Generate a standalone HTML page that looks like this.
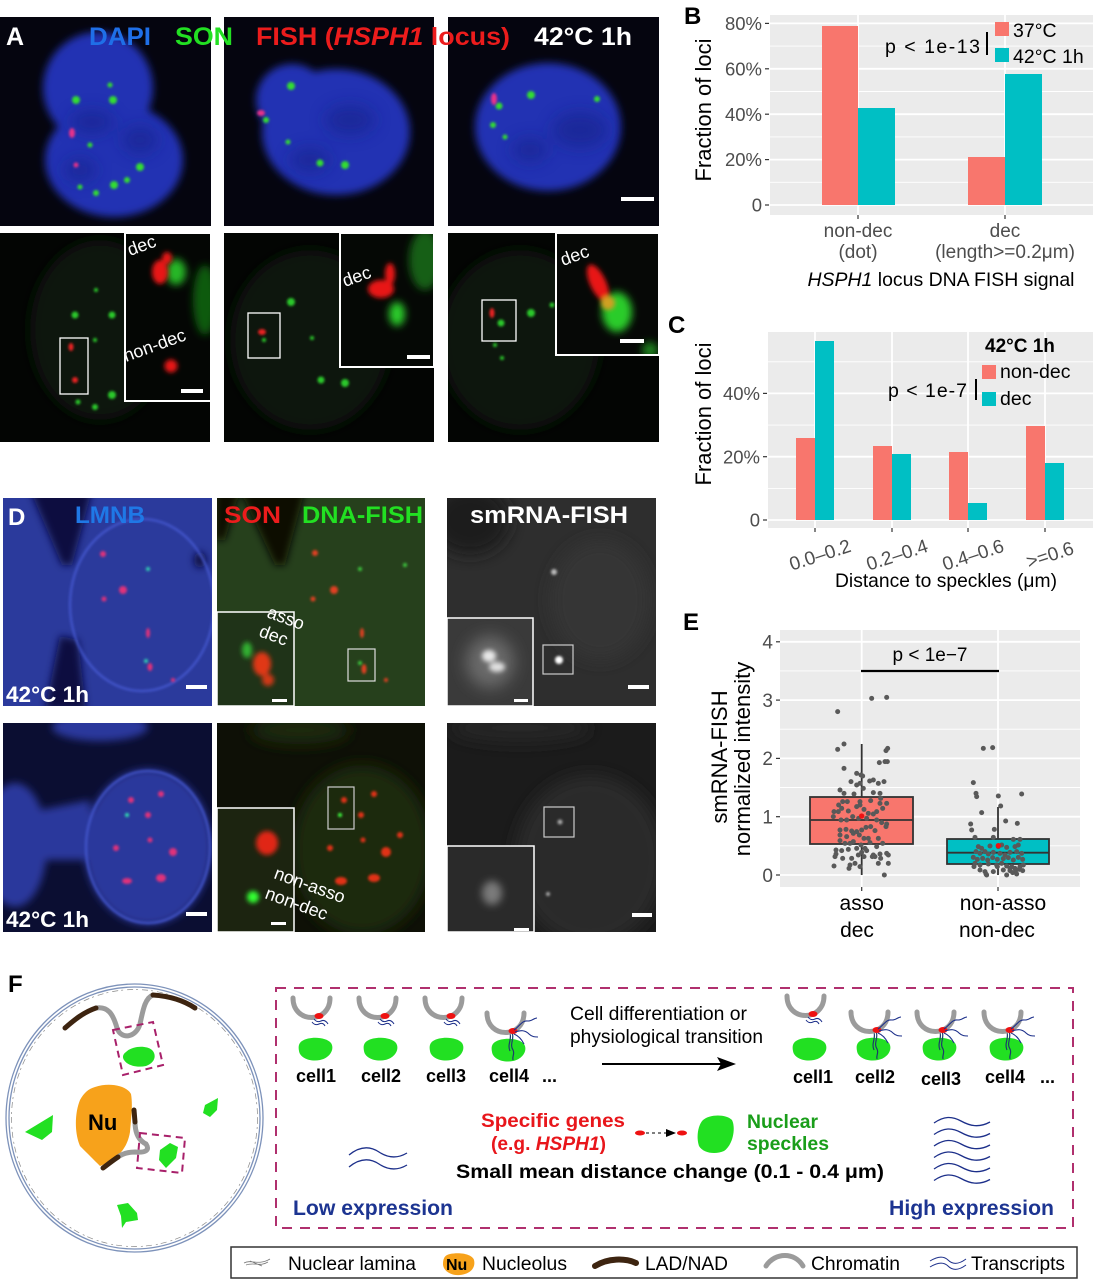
<!DOCTYPE html>
<html><head><meta charset="utf-8"><style>
html,body{margin:0;padding:0;background:#fff;}
svg{display:block;font-family:"Liberation Sans",Arial,sans-serif;}
</style></head><body>
<svg width="1093" height="1280" viewBox="0 0 1093 1280" xmlns="http://www.w3.org/2000/svg">
<defs>
<filter id="f1" x="-50%" y="-50%" width="200%" height="200%"><feGaussianBlur stdDeviation="1.3"/></filter>
<filter id="f2" x="-50%" y="-50%" width="200%" height="200%"><feGaussianBlur stdDeviation="2.5"/></filter>
<filter id="f4" x="-50%" y="-50%" width="200%" height="200%"><feGaussianBlur stdDeviation="4"/></filter>
<filter id="f8" x="-50%" y="-50%" width="200%" height="200%"><feGaussianBlur stdDeviation="8"/></filter>
<clipPath id="a1"><rect x="0" y="17" width="211" height="209"/></clipPath>
<clipPath id="a2"><rect x="224" y="17" width="210" height="209"/></clipPath>
<clipPath id="a3"><rect x="448" y="17" width="211" height="209"/></clipPath>
<clipPath id="a4"><rect x="0" y="233" width="210" height="209"/></clipPath>
<clipPath id="a5"><rect x="224" y="233" width="210" height="209"/></clipPath>
<clipPath id="a6"><rect x="448" y="233" width="211" height="209"/></clipPath>
<clipPath id="ai4"><rect x="125" y="233" width="86" height="168"/></clipPath>
<clipPath id="ai5"><rect x="340" y="233" width="94" height="134"/></clipPath>
<clipPath id="ai6"><rect x="556" y="233" width="103" height="122"/></clipPath>
<clipPath id="d1"><rect x="3" y="498" width="209" height="208"/></clipPath>
<clipPath id="d2"><rect x="217" y="498" width="208" height="208"/></clipPath>
<clipPath id="d3"><rect x="447" y="498" width="209" height="208"/></clipPath>
<clipPath id="d4"><rect x="3" y="723" width="209" height="209"/></clipPath>
<clipPath id="d5"><rect x="217" y="723" width="208" height="209"/></clipPath>
<clipPath id="d6"><rect x="447" y="723" width="209" height="209"/></clipPath>
<clipPath id="di2"><rect x="217" y="612" width="77" height="94"/></clipPath>
<clipPath id="di3"><rect x="447" y="618" width="86" height="88"/></clipPath>
<clipPath id="di5"><rect x="217" y="808" width="77" height="124"/></clipPath>
<clipPath id="di6"><rect x="447" y="846" width="87" height="86"/></clipPath>
<path id="spk" d="M-14 -8 C-6 -13 10 -12 15 -6 C19 0 14 9 4 11 C-6 13 -16 9 -17 2 C-18 -3 -17 -6 -14 -8 Z" fill="#22e022"/>
<g id="lowc">
 <path d="M0 0 C0 26 37 26 37 0" stroke="#9b9b9b" stroke-width="5" fill="none" stroke-linecap="round"/>
 <ellipse cx="26" cy="18" rx="4.5" ry="3" fill="#ee1111"/>
 <path d="M21 21 q3 4 7 2 t7 3 M19 24 q3 4 7 2 t6 2" stroke="#1c2f8a" stroke-width="1" fill="none"/>
</g>
<g id="highc">
 <path d="M25 19 c3 7 -3 12 1 18 c2 4 -1 6 0 10 M23 20 c2 7 -3 11 0 18" stroke="#1c3b6a" stroke-width="1.2" fill="none"/>
 <path d="M0 0 C0 26 37 26 37 0" stroke="#9b9b9b" stroke-width="5" fill="none" stroke-linecap="round"/>
 <ellipse cx="26" cy="18" rx="4.5" ry="3" fill="#ee1111"/>
 <path d="M27 17 c6 -4 8 -10 14 -9 c4 0 6 -3 9 -3 M28 19 c6 -2 10 -2 14 2 c3 3 6 3 9 3 M27 21 c5 2 8 6 10 10" stroke="#1c2f8a" stroke-width="1.1" fill="none"/>
</g>
</defs>

<!-- ================= PANEL A ================= -->
<g clip-path="url(#a1)">
 <rect x="0" y="17" width="211" height="209" fill="#05050f"/>
 <g filter="url(#f4)" fill="#2133b3">
  <ellipse cx="98" cy="88" rx="55" ry="56"/>
  <ellipse cx="114" cy="160" rx="69" ry="57"/>
 </g>
 <g filter="url(#f8)" fill="#16228a" opacity="0.6">
  <ellipse cx="92" cy="122" rx="22" ry="12"/><ellipse cx="140" cy="140" rx="18" ry="14"/><ellipse cx="80" cy="170" rx="16" ry="12"/>
 </g>
 <g filter="url(#f1)" fill="#33dd33">
  <circle cx="76" cy="100" r="4"/><circle cx="113" cy="100" r="4"/><circle cx="110" cy="85" r="2.5"/><circle cx="140" cy="167" r="4"/>
  <circle cx="114" cy="185" r="4"/><circle cx="96" cy="193" r="3"/><circle cx="80" cy="187" r="2.5"/><circle cx="127" cy="180" r="3"/><circle cx="90" cy="145" r="2.5"/>
 </g>
 <g filter="url(#f1)" fill="#e8308a"><ellipse cx="72" cy="133" rx="3" ry="5"/><circle cx="76" cy="165" r="2.5"/></g>
</g>
<g clip-path="url(#a2)">
 <rect x="224" y="17" width="210" height="209" fill="#05050f"/>
 <g filter="url(#f4)" fill="#2133b3">
  <ellipse cx="336" cy="132" rx="74" ry="63"/>
  <ellipse cx="292" cy="100" rx="36" ry="36"/>
 </g>
 <g filter="url(#f8)" fill="#16228a" opacity="0.6"><ellipse cx="350" cy="120" rx="25" ry="15"/><ellipse cx="310" cy="160" rx="20" ry="12"/></g>
 <g filter="url(#f1)" fill="#33dd33">
  <circle cx="291" cy="86" r="4"/><circle cx="320" cy="163" r="3.5"/><circle cx="345" cy="165" r="4"/><circle cx="266" cy="120" r="3"/><circle cx="288" cy="142" r="2.5"/>
 </g>
 <g filter="url(#f1)" fill="#e8308a"><ellipse cx="261" cy="113" rx="4" ry="3"/></g>
</g>
<g clip-path="url(#a3)">
 <rect x="448" y="17" width="211" height="209" fill="#05050f"/>
 <g filter="url(#f4)" fill="#2133b3"><ellipse cx="548" cy="127" rx="73" ry="64"/></g>
 <g filter="url(#f8)" fill="#16228a" opacity="0.6"><ellipse cx="580" cy="130" rx="28" ry="18"/><ellipse cx="530" cy="150" rx="18" ry="12"/></g>
 <g filter="url(#f1)" fill="#33dd33">
  <circle cx="531" cy="95" r="4"/><circle cx="597" cy="99" r="3"/><circle cx="499" cy="106" r="3.5"/><circle cx="493" cy="125" r="3"/><circle cx="505" cy="137" r="2.5"/>
 </g>
 <g filter="url(#f1)" fill="#e8308a"><ellipse cx="494" cy="99" rx="3" ry="6"/></g>
 <rect x="621" y="197" width="33" height="4" fill="#fff"/>
</g>
<g font-weight="bold" font-size="25">
 <text x="6" y="45" fill="#fff">A</text>
 <text x="89" y="45" fill="#1f6fe8" textLength="62" lengthAdjust="spacingAndGlyphs">DAPI</text>
 <text x="175" y="45" fill="#22e022" textLength="58" lengthAdjust="spacingAndGlyphs">SON</text>
 <text x="256" y="45" fill="#ec1c1c" textLength="254" lengthAdjust="spacingAndGlyphs">FISH (<tspan font-style="italic">HSPH1</tspan> locus)</text>
 <text x="534" y="45" fill="#fff" textLength="98" lengthAdjust="spacingAndGlyphs">42°C 1h</text>
</g>

<!-- A bottom row -->
<g clip-path="url(#a4)">
 <rect x="0" y="233" width="210" height="209" fill="#030503"/>
 <g filter="url(#f8)" fill="#081508"><ellipse cx="100" cy="330" rx="70" ry="90"/></g>
 <g filter="url(#f1)" fill="#2cc82c">
  <circle cx="75" cy="315" r="3.5"/><circle cx="112" cy="315" r="3.5"/><circle cx="112" cy="395" r="4"/><circle cx="95" cy="407" r="3"/><circle cx="78" cy="402" r="2.5"/><circle cx="96" cy="290" r="2"/><circle cx="95" cy="340" r="2"/>
 </g>
 <g filter="url(#f1)" fill="#e82020"><ellipse cx="71" cy="347" rx="2.5" ry="4"/><circle cx="75" cy="380" r="3"/></g>
 <rect x="60" y="338" width="28" height="56" fill="none" stroke="#fff" stroke-width="1.3"/>
</g>
<g clip-path="url(#ai4)">
 <rect x="125" y="233" width="86" height="168" fill="#040604"/>
 <g filter="url(#f4)"><ellipse cx="205" cy="300" rx="12" ry="35" fill="#0f5a10"/><ellipse cx="176" cy="272" rx="10" ry="13" fill="#25b825"/></g>
 <g filter="url(#f2)" fill="#e81818"><ellipse cx="160" cy="272" rx="8" ry="12"/><ellipse cx="167" cy="258" rx="5" ry="6"/><circle cx="171" cy="366" r="6.5"/></g>
 <rect x="181" y="389" width="22" height="4" fill="#fff"/>
</g>
<rect x="125" y="233" width="86" height="168" fill="none" stroke="#fff" stroke-width="2"/>
<g fill="#fff" font-size="18">
 <text x="130" y="256" transform="rotate(-20 130 256)">dec</text>
 <text x="126" y="362" transform="rotate(-20 126 362)">non-dec</text>
</g>

<g clip-path="url(#a5)">
 <rect x="224" y="233" width="210" height="209" fill="#030503"/>
 <g filter="url(#f8)" fill="#081508"><ellipse cx="310" cy="340" rx="80" ry="90"/></g>
 <g filter="url(#f1)" fill="#2cc82c">
  <circle cx="291" cy="302" r="4"/><circle cx="321" cy="380" r="3.5"/><circle cx="345" cy="383" r="4"/><circle cx="312" cy="338" r="2"/><circle cx="264" cy="340" r="2"/>
 </g>
 <g filter="url(#f1)" fill="#e82020"><ellipse cx="262" cy="332" rx="4" ry="3"/></g>
 <rect x="248" y="313" width="32" height="45" fill="none" stroke="#fff" stroke-width="1.3"/>
</g>
<g clip-path="url(#ai5)">
 <rect x="340" y="233" width="94" height="134" fill="#050805"/>
 <g filter="url(#f4)"><ellipse cx="425" cy="260" rx="16" ry="30" fill="#165e16"/><ellipse cx="397" cy="314" rx="8" ry="12" fill="#2ccc2c"/></g>
 <g filter="url(#f2)" fill="#e81818"><ellipse cx="381" cy="289" rx="13" ry="9"/><ellipse cx="390" cy="274" rx="5" ry="11"/></g>
 <rect x="407" y="355" width="23" height="4" fill="#fff"/>
</g>
<rect x="340" y="233" width="94" height="134" fill="none" stroke="#fff" stroke-width="2"/>
<text x="345" y="287" transform="rotate(-20 345 287)" fill="#fff" font-size="18">dec</text>

<g clip-path="url(#a6)">
 <rect x="448" y="233" width="211" height="209" fill="#030503"/>
 <g filter="url(#f8)" fill="#081508"><ellipse cx="520" cy="340" rx="80" ry="90"/></g>
 <g filter="url(#f1)" fill="#2cc82c">
  <circle cx="531" cy="313" r="4"/><circle cx="501" cy="323" r="3.5"/><circle cx="495" cy="345" r="2"/><circle cx="502" cy="358" r="2"/><circle cx="552" cy="305" r="2.5"/>
 </g>
 <g filter="url(#f1)" fill="#e82020"><ellipse cx="492" cy="313" rx="2.5" ry="5"/></g>
 <rect x="482" y="300" width="34" height="41" fill="none" stroke="#fff" stroke-width="1.3"/>
</g>
<g clip-path="url(#ai6)">
 <rect x="556" y="233" width="103" height="122" fill="#060806"/>
 <g filter="url(#f4)"><ellipse cx="617" cy="312" rx="15" ry="20" fill="#2ccc2c"/><ellipse cx="650" cy="350" rx="8" ry="8" fill="#1a801a"/></g>
 <g filter="url(#f2)"><ellipse cx="598" cy="283" rx="8" ry="20" transform="rotate(-25 598 283)" fill="#e81818"/><ellipse cx="608" cy="303" rx="7" ry="7" fill="#d0a020"/></g>
 <rect x="620" y="339" width="24" height="4" fill="#fff"/>
</g>
<rect x="556" y="233" width="103" height="122" fill="none" stroke="#fff" stroke-width="2"/>
<text x="563" y="266" transform="rotate(-20 563 266)" fill="#fff" font-size="18">dec</text>

<!-- ================= PANEL B ================= -->
<rect x="770" y="15" width="323" height="200" fill="#EBEBEB"/>
<g stroke="#fff" stroke-width="0.9"><line x1="770" x2="1093" y1="182.3" y2="182.3"/><line x1="770" x2="1093" y1="136.9" y2="136.9"/><line x1="770" x2="1093" y1="91.5" y2="91.5"/><line x1="770" x2="1093" y1="46.1" y2="46.1"/></g>
<g stroke="#fff" stroke-width="1.8"><line x1="770" x2="1093" y1="205" y2="205"/><line x1="770" x2="1093" y1="159.6" y2="159.6"/><line x1="770" x2="1093" y1="114.2" y2="114.2"/><line x1="770" x2="1093" y1="68.8" y2="68.8"/><line x1="770" x2="1093" y1="23.4" y2="23.4"/><line x1="858" x2="858" y1="15" y2="215"/><line x1="1005" x2="1005" y1="15" y2="215"/></g>
<rect x="822" y="26" width="36" height="179" fill="#F8766D"/>
<rect x="858" y="108" width="37" height="97" fill="#00BFC4"/>
<rect x="968" y="157" width="37" height="48" fill="#F8766D"/>
<rect x="1005" y="74" width="37" height="131" fill="#00BFC4"/>
<g stroke="#333" stroke-width="1.2"><line x1="765" x2="769" y1="205" y2="205"/><line x1="765" x2="769" y1="159.6" y2="159.6"/><line x1="765" x2="769" y1="114.2" y2="114.2"/><line x1="765" x2="769" y1="68.8" y2="68.8"/><line x1="765" x2="769" y1="23.4" y2="23.4"/><line x1="858" x2="858" y1="215" y2="219"/><line x1="1005" x2="1005" y1="215" y2="219"/></g>
<g fill="#4D4D4D" font-size="18.5" text-anchor="end"><text x="762" y="30">80%</text><text x="762" y="75.5">60%</text><text x="762" y="121">40%</text><text x="762" y="166">20%</text><text x="762" y="211.5">0</text></g>
<g fill="#4D4D4D" font-size="19" text-anchor="middle"><text x="858" y="237">non-dec</text><text x="858" y="258">(dot)</text><text x="1005" y="237">dec</text><text x="1005" y="258">(length&gt;=0.2μm)</text></g>
<text x="941" y="286" font-size="19.5" text-anchor="middle" fill="#000" textLength="267" lengthAdjust="spacingAndGlyphs"><tspan font-style="italic">HSPH1</tspan> locus DNA FISH signal</text>
<text transform="translate(711 110) rotate(-90)" font-size="22" text-anchor="middle" fill="#000">Fraction of loci</text>
<rect x="995" y="22" width="14" height="14" fill="#F8766D"/><rect x="995" y="48" width="14" height="14" fill="#00BFC4"/>
<g font-size="19.5" fill="#000"><text x="1013" y="37">37°C</text><text x="1013" y="63">42°C 1h</text><text x="885" y="53" textLength="95" lengthAdjust="spacing">p &lt; 1e-13</text></g>
<line x1="987" x2="987" y1="32" y2="55" stroke="#000" stroke-width="2"/>
<text x="684" y="24" font-size="24" font-weight="bold" fill="#000">B</text>

<!-- ================= PANEL C ================= -->
<rect x="768" y="332" width="325" height="196" fill="#EBEBEB"/>
<g stroke="#fff" stroke-width="0.9"><line x1="768" x2="1093" y1="488.4" y2="488.4"/><line x1="768" x2="1093" y1="425.1" y2="425.1"/><line x1="768" x2="1093" y1="361.8" y2="361.8"/></g>
<g stroke="#fff" stroke-width="1.8"><line x1="768" x2="1093" y1="520" y2="520"/><line x1="768" x2="1093" y1="456.7" y2="456.7"/><line x1="768" x2="1093" y1="393.4" y2="393.4"/><line x1="815" x2="815" y1="332" y2="528"/><line x1="892" x2="892" y1="332" y2="528"/><line x1="968" x2="968" y1="332" y2="528"/><line x1="1045" x2="1045" y1="332" y2="528"/></g>
<rect x="796" y="438" width="19" height="82" fill="#F8766D"/><rect x="815" y="341" width="19" height="179" fill="#00BFC4"/>
<rect x="873" y="446" width="19" height="74" fill="#F8766D"/><rect x="892" y="454" width="19" height="66" fill="#00BFC4"/>
<rect x="949" y="452" width="19" height="68" fill="#F8766D"/><rect x="968" y="503" width="19" height="17" fill="#00BFC4"/>
<rect x="1026" y="426" width="19" height="94" fill="#F8766D"/><rect x="1045" y="463" width="19" height="57" fill="#00BFC4"/>
<g stroke="#333" stroke-width="1.2"><line x1="763" x2="767" y1="520" y2="520"/><line x1="763" x2="767" y1="456.7" y2="456.7"/><line x1="763" x2="767" y1="393.4" y2="393.4"/><line x1="815" x2="815" y1="528" y2="532"/><line x1="892" x2="892" y1="528" y2="532"/><line x1="968" x2="968" y1="528" y2="532"/><line x1="1045" x2="1045" y1="528" y2="532"/></g>
<g fill="#4D4D4D" font-size="18.5" text-anchor="end"><text x="760" y="400">40%</text><text x="760" y="463.5">20%</text><text x="760" y="526.5">0</text></g>
<g fill="#4D4D4D" font-size="19" text-anchor="middle">
 <text x="822" y="561" transform="rotate(-18 822 561)">0.0–0.2</text>
 <text x="899" y="561" transform="rotate(-18 899 561)">0.2–0.4</text>
 <text x="975" y="561" transform="rotate(-18 975 561)">0.4–0.6</text>
 <text x="1052" y="561" transform="rotate(-18 1052 561)">&gt;=0.6</text>
</g>
<text x="946" y="587" font-size="19.5" text-anchor="middle" fill="#000" textLength="222" lengthAdjust="spacingAndGlyphs">Distance to speckles (μm)</text>
<text transform="translate(711 414) rotate(-90)" font-size="22" text-anchor="middle" fill="#000">Fraction of loci</text>
<text x="985" y="352" font-size="19" font-weight="bold" fill="#000">42°C 1h</text>
<rect x="982" y="365" width="14" height="14" fill="#F8766D"/><rect x="982" y="392" width="14" height="14" fill="#00BFC4"/>
<g font-size="19.5" fill="#000"><text x="1000" y="378">non-dec</text><text x="1000" y="405">dec</text><text x="888" y="397" textLength="79" lengthAdjust="spacing">p &lt; 1e-7</text></g>
<line x1="976" x2="976" y1="379" y2="400" stroke="#000" stroke-width="2"/>
<text x="668" y="333" font-size="24" font-weight="bold" fill="#000">C</text>

<!-- ================= PANEL D ================= -->
<g clip-path="url(#d1)">
 <rect x="3" y="498" width="209" height="208" fill="#2b3a9c"/>
 <g filter="url(#f4)" fill="#0c1140">
  <polygon points="30,490 92,490 72,565 62,565"/>
  <polygon points="45,710 86,710 78,640 60,636"/>
  <ellipse cx="200" cy="560" rx="6" ry="8"/>
 </g>
 <ellipse cx="142" cy="605" rx="72" ry="86" fill="none" stroke="#4558d0" stroke-width="2" filter="url(#f1)"/>
 <g filter="url(#f1)" fill="#e0307a">
  <circle cx="103" cy="554" r="3"/><circle cx="123" cy="590" r="4"/><circle cx="104" cy="599" r="2.5"/><ellipse cx="148" cy="633" rx="2" ry="5"/><ellipse cx="150" cy="667" rx="2.5" ry="4"/><circle cx="173" cy="680" r="2"/>
 </g>
 <g filter="url(#f1)" fill="#30d0b0"><circle cx="148" cy="569" r="2"/><circle cx="146" cy="661" r="2"/></g>
 <rect x="186" y="685" width="21" height="4" fill="#fff"/>
</g>
<g clip-path="url(#d2)">
 <rect x="217" y="498" width="208" height="208" fill="#26401c"/>
 <g filter="url(#f4)" fill="#0a0a04">
  <polygon points="240,490 305,490 285,565 275,565"/>
  <polygon points="215,490 240,490 225,540 215,540"/>
 </g>
 <g filter="url(#f1)" fill="#e04020">
  <circle cx="315" cy="553" r="3"/><circle cx="334" cy="590" r="4"/><circle cx="313" cy="599" r="2.5"/><ellipse cx="362" cy="633" rx="2" ry="5"/><ellipse cx="364" cy="669" rx="2.5" ry="5"/><circle cx="386" cy="680" r="2"/>
 </g>
 <g filter="url(#f1)" fill="#3cc83c"><circle cx="360" cy="569" r="2"/><circle cx="360" cy="663" r="2"/><circle cx="405" cy="565" r="2"/></g>
 <rect x="348" y="649" width="27" height="32" fill="none" stroke="#ddd" stroke-width="1.2"/>
</g>
<g clip-path="url(#di2)">
 <rect x="217" y="612" width="77" height="94" fill="#1f3318"/>
 <g filter="url(#f2)"><ellipse cx="247" cy="650" rx="5" ry="8" fill="#30b030"/><ellipse cx="262" cy="664" rx="9" ry="12" fill="#e03818"/><ellipse cx="268" cy="680" rx="6" ry="6" fill="#d03818"/></g>
 <rect x="272" y="699" width="15" height="3" fill="#fff"/>
</g>
<rect x="217" y="612" width="77" height="94" fill="none" stroke="#fff" stroke-width="1.5"/>
<g fill="#fff" font-size="18"><text x="266" y="617" transform="rotate(20 266 617)">asso</text><text x="258" y="636" transform="rotate(20 258 636)">dec</text></g>
<g clip-path="url(#d3)">
 <rect x="447" y="498" width="209" height="208" fill="#2e2e2e"/>
 <g filter="url(#f8)"><ellipse cx="470" cy="520" rx="40" ry="35" fill="#1a1a1a"/><ellipse cx="600" cy="600" rx="50" ry="60" fill="#363636"/></g>
 <g filter="url(#f1)" fill="#bbb"><circle cx="554" cy="572" r="3"/></g>
 <g filter="url(#f1)" fill="#fff"><ellipse cx="559" cy="660" rx="4" ry="4"/></g>
 <rect x="543" y="645" width="30" height="29" fill="none" stroke="#ccc" stroke-width="1.2"/>
 <rect x="628" y="685" width="21" height="4" fill="#fff"/>
</g>
<g clip-path="url(#di3)">
 <rect x="447" y="618" width="86" height="88" fill="#3a3a3a"/>
 <g filter="url(#f8)"><ellipse cx="490" cy="662" rx="24" ry="26" fill="#6a6a6a"/></g>
 <g filter="url(#f2)"><ellipse cx="489" cy="656" rx="7" ry="6" fill="#e8e8e8"/><ellipse cx="497" cy="667" rx="8" ry="5" fill="#e0e0e0"/></g>
 <rect x="514" y="699" width="14" height="3" fill="#fff"/>
</g>
<rect x="447" y="618" width="86" height="88" fill="none" stroke="#fff" stroke-width="1.5"/>

<g clip-path="url(#d4)">
 <rect x="3" y="723" width="209" height="209" fill="#0b0e32"/>
 <g filter="url(#f4)" fill="#2a399c">
  <ellipse cx="100" cy="727" rx="48" ry="14"/>
  <ellipse cx="15" cy="845" rx="32" ry="62"/>
  <ellipse cx="148" cy="847" rx="64" ry="78"/>
  <polygon points="40,810 90,800 90,860 40,860"/>
 </g>
 <ellipse cx="148" cy="847" rx="62" ry="76" fill="none" stroke="#4558d0" stroke-width="2" filter="url(#f1)"/>
 <g filter="url(#f1)" fill="#e0307a">
  <circle cx="131" cy="800" r="3"/><circle cx="161" cy="794" r="3"/><circle cx="148" cy="815" r="3"/><circle cx="116" cy="848" r="3"/><circle cx="173" cy="852" r="4"/><ellipse cx="127" cy="881" rx="5" ry="3"/><ellipse cx="161" cy="878" rx="5" ry="4"/><circle cx="150" cy="840" r="2.5"/>
 </g>
 <g filter="url(#f1)" fill="#30e0b0"><circle cx="127" cy="815" r="2"/></g>
 <rect x="186" y="912" width="21" height="4" fill="#fff"/>
</g>
<g clip-path="url(#d5)">
 <rect x="217" y="723" width="208" height="209" fill="#0e1006"/>
 <g filter="url(#f8)" fill="#1d2a10"><ellipse cx="362" cy="850" rx="70" ry="85"/><ellipse cx="300" cy="730" rx="50" ry="14"/></g>
 <g filter="url(#f1)" fill="#e03018">
  <circle cx="344" cy="800" r="3"/><circle cx="374" cy="794" r="3"/><circle cx="361" cy="815" r="3"/><circle cx="330" cy="848" r="3"/><circle cx="386" cy="852" r="5"/><ellipse cx="341" cy="881" rx="6" ry="4"/><ellipse cx="374" cy="878" rx="6" ry="4"/><circle cx="363" cy="840" r="2.5"/><circle cx="400" cy="835" r="3"/>
 </g>
 <g filter="url(#f1)" fill="#40ff40"><circle cx="340" cy="815" r="2"/></g>
 <rect x="328" y="787" width="26" height="42" fill="none" stroke="#ccc" stroke-width="1.2"/>
</g>
<g clip-path="url(#di5)">
 <rect x="217" y="808" width="77" height="124" fill="#1c2410"/>
 <g filter="url(#f2)"><ellipse cx="267" cy="843" rx="11" ry="12" fill="#e02818"/><circle cx="253" cy="897" r="6" fill="#30ff30"/></g>
 <rect x="271" y="922" width="15" height="3" fill="#fff"/>
</g>
<rect x="217" y="808" width="77" height="124" fill="none" stroke="#fff" stroke-width="1.5"/>
<g fill="#fff" font-size="18"><text x="273" y="878" transform="rotate(20 273 878)">non-asso</text><text x="264" y="898" transform="rotate(20 264 898)">non-dec</text></g>
<g clip-path="url(#d6)">
 <rect x="447" y="723" width="209" height="209" fill="#1b1b1b"/>
 <g filter="url(#f8)"><ellipse cx="590" cy="860" rx="75" ry="85" fill="#2a2a2a"/><ellipse cx="520" cy="728" rx="70" ry="14" fill="#252525"/></g>
 <g filter="url(#f1)" fill="#aaa"><circle cx="560" cy="822" r="2.5"/><circle cx="548" cy="894" r="2"/></g>
 <rect x="544" y="807" width="30" height="30" fill="none" stroke="#ccc" stroke-width="1.2"/>
 <rect x="632" y="913" width="20" height="4" fill="#fff"/>
</g>
<g clip-path="url(#di6)">
 <rect x="447" y="846" width="87" height="86" fill="#2a2a2a"/>
 <g filter="url(#f4)"><ellipse cx="492" cy="893" rx="10" ry="12" fill="#7a7a7a"/></g>
 <rect x="514" y="928" width="15" height="3" fill="#fff"/>
</g>
<rect x="447" y="846" width="87" height="86" fill="none" stroke="#fff" stroke-width="1.5"/>
<g font-weight="bold">
 <text x="8" y="525" font-size="24" fill="#fff">D</text>
 <text x="75" y="523" font-size="24" fill="#1f78e6" textLength="70" lengthAdjust="spacingAndGlyphs">LMNB</text>
 <text x="224" y="523" font-size="24" fill="#ec1c1c" textLength="57" lengthAdjust="spacingAndGlyphs">SON</text>
 <text x="302" y="523" font-size="24" fill="#22e022" textLength="121" lengthAdjust="spacingAndGlyphs">DNA-FISH</text>
 <text x="470" y="523" font-size="24" fill="#fff" textLength="158" lengthAdjust="spacingAndGlyphs">smRNA-FISH</text>
 <text x="6" y="702" font-size="22.5" fill="#fff" textLength="83" lengthAdjust="spacingAndGlyphs">42°C 1h</text>
 <text x="6" y="927" font-size="22.5" fill="#fff" textLength="83" lengthAdjust="spacingAndGlyphs">42°C 1h</text>
</g>

<!-- ================= PANEL E ================= -->
<text x="683" y="630" font-size="24" font-weight="bold" fill="#000">E</text>
<rect x="780" y="630" width="300" height="257" fill="#EBEBEB"/>
<g stroke="#fff" stroke-width="0.9"><line x1="780" x2="1080" y1="845.8" y2="845.8"/><line x1="780" x2="1080" y1="787.5" y2="787.5"/><line x1="780" x2="1080" y1="729.2" y2="729.2"/><line x1="780" x2="1080" y1="670.9" y2="670.9"/></g>
<g stroke="#fff" stroke-width="1.8"><line x1="780" x2="1080" y1="875" y2="875"/><line x1="780" x2="1080" y1="816.7" y2="816.7"/><line x1="780" x2="1080" y1="758.4" y2="758.4"/><line x1="780" x2="1080" y1="700.1" y2="700.1"/><line x1="780" x2="1080" y1="641.8" y2="641.8"/><line x1="861.7" x2="861.7" y1="630" y2="887"/><line x1="998" x2="998" y1="630" y2="887"/></g>
<g stroke="#333" stroke-width="1.2"><line x1="776" x2="780" y1="875" y2="875"/><line x1="776" x2="780" y1="816.7" y2="816.7"/><line x1="776" x2="780" y1="758.4" y2="758.4"/><line x1="776" x2="780" y1="700.1" y2="700.1"/><line x1="776" x2="780" y1="641.8" y2="641.8"/><line x1="861.7" x2="861.7" y1="887" y2="891"/><line x1="998" x2="998" y1="887" y2="891"/></g>
<g fill="#4D4D4D" font-size="19" text-anchor="end"><text x="773" y="882">0</text><text x="773" y="823.5">1</text><text x="773" y="765">2</text><text x="773" y="707">3</text><text x="773" y="648.5">4</text></g>
<g stroke="#333" stroke-width="1.8">
 <line x1="861.7" x2="861.7" y1="744" y2="875"/>
 <rect x="810" y="797" width="103" height="47" fill="#F8766D"/>
 <line x1="810" x2="913" y1="820" y2="820"/>
 <line x1="998" x2="998" y1="807" y2="875"/>
 <rect x="947" y="839" width="102" height="25" fill="#00BFC4"/>
 <line x1="947" x2="1049" y1="852.7" y2="852.7"/>
</g>
<g transform="translate(660 600) scale(0.33333)" fill="#595959">
<circle cx="533" cy="335" r="7.5"/><circle cx="635" cy="295" r="7.5"/><circle cx="680" cy="292" r="7.5"/><circle cx="533" cy="448" r="7.5"/><circle cx="552" cy="432" r="7.5"/><circle cx="683" cy="445" r="7.5"/><circle cx="678" cy="452" r="7.5"/><circle cx="552" cy="505" r="7.5"/><circle cx="658" cy="488" r="7.5"/><circle cx="675" cy="485" r="7.5"/><circle cx="682" cy="485" r="7.5"/><circle cx="590" cy="520" r="7.5"/><circle cx="603" cy="525" r="7.5"/><circle cx="608" cy="528" r="7.5"/><circle cx="590" cy="555" r="7.5"/><circle cx="600" cy="550" r="7.5"/><circle cx="573" cy="545" r="7.5"/><circle cx="629" cy="543" r="7.5"/><circle cx="655" cy="550" r="7.5"/><circle cx="672" cy="545" r="7.5"/><circle cx="540" cy="570" r="7.5"/><circle cx="610" cy="565" r="7.5"/><circle cx="640" cy="578" r="7.5"/><circle cx="660" cy="580" r="7.5"/><circle cx="582" cy="582" r="7.5"/><circle cx="548" cy="605" r="7.5"/><circle cx="562" cy="605" r="7.5"/><circle cx="536" cy="615" r="7.5"/><circle cx="600" cy="605" r="7.5"/><circle cx="662" cy="595" r="7.5"/><circle cx="680" cy="610" r="7.5"/><circle cx="535" cy="635" r="7.5"/><circle cx="545" cy="625" r="7.5"/><circle cx="565" cy="633" r="7.5"/><circle cx="590" cy="620" r="7.5"/><circle cx="612" cy="628" r="7.5"/><circle cx="625" cy="640" r="7.5"/><circle cx="640" cy="642" r="7.5"/><circle cx="650" cy="635" r="7.5"/><circle cx="668" cy="625" r="7.5"/><circle cx="522" cy="635" r="7.5"/><circle cx="520" cy="650" r="7.5"/><circle cx="543" cy="660" r="7.5"/><circle cx="560" cy="660" r="7.5"/><circle cx="578" cy="650" r="7.5"/><circle cx="596" cy="655" r="7.5"/><circle cx="620" cy="655" r="7.5"/><circle cx="650" cy="660" r="7.5"/><circle cx="665" cy="668" r="7.5"/><circle cx="540" cy="690" r="7.5"/><circle cx="558" cy="688" r="7.5"/><circle cx="575" cy="693" r="7.5"/><circle cx="590" cy="695" r="7.5"/><circle cx="605" cy="690" r="7.5"/><circle cx="618" cy="682" r="7.5"/><circle cx="632" cy="680" r="7.5"/><circle cx="645" cy="692" r="7.5"/><circle cx="680" cy="672" r="7.5"/><circle cx="678" cy="680" r="7.5"/><circle cx="540" cy="705" r="7.5"/><circle cx="560" cy="710" r="7.5"/><circle cx="580" cy="700" r="7.5"/><circle cx="598" cy="705" r="7.5"/><circle cx="612" cy="715" r="7.5"/><circle cx="625" cy="715" r="7.5"/><circle cx="655" cy="715" r="7.5"/><circle cx="540" cy="722" r="7.5"/><circle cx="555" cy="730" r="7.5"/><circle cx="580" cy="725" r="7.5"/><circle cx="603" cy="735" r="7.5"/><circle cx="630" cy="728" r="7.5"/><circle cx="650" cy="740" r="7.5"/><circle cx="668" cy="730" r="7.5"/><circle cx="528" cy="750" r="7.5"/><circle cx="545" cy="752" r="7.5"/><circle cx="565" cy="748" r="7.5"/><circle cx="590" cy="745" r="7.5"/><circle cx="605" cy="757" r="7.5"/><circle cx="620" cy="752" r="7.5"/><circle cx="645" cy="770" r="7.5"/><circle cx="660" cy="762" r="7.5"/><circle cx="680" cy="760" r="7.5"/><circle cx="528" cy="762" r="7.5"/><circle cx="525" cy="770" r="7.5"/><circle cx="548" cy="775" r="7.5"/><circle cx="575" cy="775" r="7.5"/><circle cx="595" cy="765" r="7.5"/><circle cx="612" cy="770" r="7.5"/><circle cx="640" cy="765" r="7.5"/><circle cx="662" cy="775" r="7.5"/><circle cx="685" cy="765" r="7.5"/><circle cx="522" cy="798" r="7.5"/><circle cx="570" cy="795" r="7.5"/><circle cx="585" cy="790" r="7.5"/><circle cx="655" cy="790" r="7.5"/><circle cx="685" cy="790" r="7.5"/><circle cx="567" cy="805" r="7.5"/><circle cx="600" cy="800" r="7.5"/><circle cx="673" cy="825" r="7.5"/><circle cx="637" cy="770" r="7.5"/><circle cx="615" cy="745" r="7.5"/><circle cx="570" cy="730" r="7.5"/><circle cx="600" cy="615" r="7.5"/><circle cx="552" cy="580" r="7.5"/><circle cx="632" cy="602" r="7.5"/><circle cx="660" cy="610" r="7.5"/><circle cx="640" cy="540" r="7.5"/>
<circle cx="940" cy="548" r="7.5"/><circle cx="998" cy="443" r="7.5"/><circle cx="970" cy="445" r="7.5"/><circle cx="948" cy="580" r="7.5"/><circle cx="950" cy="590" r="7.5"/><circle cx="1015" cy="588" r="7.5"/><circle cx="1085" cy="582" r="7.5"/><circle cx="965" cy="638" r="7.5"/><circle cx="1022" cy="618" r="7.5"/><circle cx="932" cy="672" r="7.5"/><circle cx="1037" cy="663" r="7.5"/><circle cx="1072" cy="670" r="7.5"/><circle cx="935" cy="690" r="7.5"/><circle cx="1003" cy="688" r="7.5"/><circle cx="945" cy="712" r="7.5"/><circle cx="1000" cy="712" r="7.5"/><circle cx="1060" cy="718" r="7.5"/><circle cx="1080" cy="718" r="7.5"/><circle cx="955" cy="740" r="7.5"/><circle cx="965" cy="745" r="7.5"/><circle cx="990" cy="738" r="7.5"/><circle cx="1015" cy="740" r="7.5"/><circle cx="1025" cy="735" r="7.5"/><circle cx="1040" cy="742" r="7.5"/><circle cx="1065" cy="740" r="7.5"/><circle cx="1075" cy="735" r="7.5"/><circle cx="948" cy="755" r="7.5"/><circle cx="960" cy="760" r="7.5"/><circle cx="975" cy="755" r="7.5"/><circle cx="985" cy="762" r="7.5"/><circle cx="1000" cy="757" r="7.5"/><circle cx="1020" cy="760" r="7.5"/><circle cx="1035" cy="765" r="7.5"/><circle cx="1050" cy="757" r="7.5"/><circle cx="1070" cy="755" r="7.5"/><circle cx="1085" cy="760" r="7.5"/><circle cx="940" cy="772" r="7.5"/><circle cx="952" cy="778" r="7.5"/><circle cx="968" cy="775" r="7.5"/><circle cx="983" cy="780" r="7.5"/><circle cx="998" cy="773" r="7.5"/><circle cx="1012" cy="778" r="7.5"/><circle cx="1030" cy="776" r="7.5"/><circle cx="1045" cy="773" r="7.5"/><circle cx="1060" cy="780" r="7.5"/><circle cx="1075" cy="772" r="7.5"/><circle cx="1088" cy="778" r="7.5"/><circle cx="945" cy="790" r="7.5"/><circle cx="960" cy="795" r="7.5"/><circle cx="985" cy="792" r="7.5"/><circle cx="1010" cy="795" r="7.5"/><circle cx="1025" cy="790" r="7.5"/><circle cx="1040" cy="798" r="7.5"/><circle cx="1055" cy="800" r="7.5"/><circle cx="1065" cy="805" r="7.5"/><circle cx="1080" cy="800" r="7.5"/><circle cx="1090" cy="795" r="7.5"/><circle cx="960" cy="810" r="7.5"/><circle cx="975" cy="815" r="7.5"/><circle cx="980" cy="825" r="7.5"/><circle cx="1000" cy="815" r="7.5"/><circle cx="1030" cy="810" r="7.5"/><circle cx="1050" cy="812" r="7.5"/><circle cx="1058" cy="818" r="7.5"/><circle cx="1068" cy="810" r="7.5"/><circle cx="1078" cy="808" r="7.5"/><circle cx="1088" cy="812" r="7.5"/><circle cx="1040" cy="825" r="7.5"/><circle cx="1070" cy="822" r="7.5"/><circle cx="978" cy="822" r="7.5"/><circle cx="1050" cy="805" r="7.5"/><circle cx="1012" cy="800" r="7.5"/><circle cx="942" cy="800" r="7.5"/>
<circle cx="605" cy="648" r="8" fill="#ee1111"/><circle cx="1015" cy="737" r="8" fill="#ee1111"/>
</g>
<line x1="861" x2="999" y1="671" y2="671" stroke="#000" stroke-width="2.2"/>
<text x="930" y="661" font-size="19" text-anchor="middle" fill="#000">p &lt; 1e−7</text>
<g font-size="21" fill="#000" text-anchor="middle"><text x="861.7" y="910">asso</text><text x="857" y="937">dec</text><text x="1003" y="910">non-asso</text><text x="997" y="937">non-dec</text></g>
<g font-size="22" fill="#000" text-anchor="middle"><text transform="translate(727 757) rotate(-90)">smRNA-FISH</text><text transform="translate(750 759) rotate(-90)">normalized intensity</text></g>

<!-- ================= PANEL F ================= -->
<text x="8" y="992" font-size="24" font-weight="bold" fill="#000">F</text>
<g fill="none" stroke="#7d92ba">
 <ellipse cx="134.5" cy="1118" rx="128.5" ry="134" stroke-width="1.3"/>
 <ellipse cx="134.5" cy="1118" rx="125.5" ry="131" stroke-width="1.3"/>
 <ellipse cx="134.5" cy="1118" rx="123" ry="128.5" stroke="#888" stroke-width="0.7" stroke-dasharray="6 3 2 4"/>
</g>
<path d="M95 1087 C110 1082 127 1086 131 1094 C133 1105 131 1120 130 1132 C127 1150 116 1160 100 1166 C94 1160 86 1152 80 1146 C74 1132 75 1112 80 1100 C84 1093 88 1089 95 1087 Z" fill="#f7a21b"/>
<text x="88" y="1130" font-size="22" font-weight="bold" fill="#000">Nu</text>
<g fill="none" stroke-linecap="round">
 <path d="M96 1008 C108 1006 113 1014 117 1028 C121 1040 136 1038 140 1024 C143 1010 145 998 153 995" stroke="#9b9b9b" stroke-width="5"/>
 <path d="M65 1028 C74 1020 84 1012 96 1008" stroke="#3d2410" stroke-width="5"/>
 <path d="M153 995 C168 996 183 1000 195 1008" stroke="#3d2410" stroke-width="5"/>
 <path d="M135 1122 C135 1132 138 1140 146 1144 C150 1150 146 1153 135 1152 C128 1152 122 1154 118 1157" stroke="#9b9b9b" stroke-width="5"/>
 <path d="M134 1110 L135 1122" stroke="#3d2410" stroke-width="5"/>
 <path d="M118 1157 C112 1161 107 1165 103 1168" stroke="#3d2410" stroke-width="5"/>
</g>
<g fill="none" stroke="#a8206a" stroke-width="2" stroke-dasharray="7 5">
 <polygon points="113,1030 153,1022 163,1065 123,1075"/>
 <polygon points="140,1133 185,1138 182,1173 137,1168"/>
</g>
<g fill="#22e022">
 <path d="M126 1052 C132 1046 146 1045 152 1050 C157 1055 155 1063 146 1066 C136 1068 127 1065 124 1060 C122 1057 123 1054 126 1052 Z"/>
 <path d="M25 1132 L53 1115 L52 1132 L42 1140 Z"/>
 <path d="M205 1105 L218 1098 L217 1110 L210 1117 L203 1113 Z"/>
 <path d="M160 1150 L170 1143 L178 1147 L176 1158 L166 1168 L159 1160 Z"/>
 <path d="M117 1205 L128 1203 L137 1213 L138 1220 L126 1222 L122 1228 L121 1216 Z"/>
</g>
<!-- dashed main box -->
<rect x="276" y="988" width="797" height="240" fill="none" stroke="#b0306e" stroke-width="2" stroke-dasharray="10 8"/>
<use href="#lowc" x="293" y="998"/><use href="#lowc" x="359" y="998"/><use href="#lowc" x="425" y="998"/>
<use href="#spk" x="316" y="1049"/><use href="#spk" x="381" y="1049"/><use href="#spk" x="447" y="1049"/><use href="#spk" x="509" y="1050"/>
<use href="#highc" x="487" y="1013"/>
<use href="#spk" x="810" y="1049"/><use href="#spk" x="874" y="1049"/><use href="#spk" x="940" y="1049"/><use href="#spk" x="1007" y="1049"/>
<use href="#lowc" x="787" y="996"/>
<use href="#highc" x="851" y="1012"/><use href="#highc" x="917" y="1012"/><use href="#highc" x="984" y="1012"/>
<g font-size="18" font-weight="bold" fill="#000">
 <text x="296" y="1082">cell1</text><text x="361" y="1082">cell2</text><text x="426" y="1082">cell3</text><text x="489" y="1082">cell4</text><text x="542" y="1082">...</text>
 <text x="793" y="1083">cell1</text><text x="855" y="1083">cell2</text><text x="921" y="1085">cell3</text><text x="985" y="1083">cell4</text><text x="1040" y="1083">...</text>
</g>
<g font-size="19" fill="#000"><text x="570" y="1020" textLength="177" lengthAdjust="spacingAndGlyphs">Cell differentiation or</text><text x="570" y="1043" textLength="193" lengthAdjust="spacingAndGlyphs">physiological transition</text></g>
<line x1="602" x2="722" y1="1064" y2="1064" stroke="#000" stroke-width="2"/>
<polygon points="717,1057 736,1064 717,1071 721,1064" fill="#000"/>
<g font-weight="bold">
 <text x="481" y="1127" font-size="19" fill="#e8161b" textLength="144" lengthAdjust="spacingAndGlyphs">Specific genes</text>
 <text x="491" y="1150" font-size="19" fill="#e8161b" textLength="115" lengthAdjust="spacingAndGlyphs">(e.g. <tspan font-style="italic">HSPH1</tspan>)</text>
 <text x="747" y="1128" font-size="19" fill="#1a9e1a" textLength="71" lengthAdjust="spacingAndGlyphs">Nuclear</text>
 <text x="747" y="1150" font-size="19" fill="#1a9e1a" textLength="82" lengthAdjust="spacingAndGlyphs">speckles</text>
 <text x="456" y="1178" font-size="19" fill="#000" textLength="428" lengthAdjust="spacingAndGlyphs">Small mean distance change (0.1 - 0.4 μm)</text>
 <text x="293" y="1215" font-size="21" fill="#1c3491" textLength="160" lengthAdjust="spacingAndGlyphs">Low expression</text>
 <text x="889" y="1215" font-size="21" fill="#1c3491" textLength="165" lengthAdjust="spacingAndGlyphs">High expression</text>
</g>
<ellipse cx="640" cy="1133" rx="5" ry="2.5" fill="#ee1111"/><ellipse cx="682" cy="1133" rx="5" ry="2.5" fill="#ee1111"/>
<line x1="646" x2="668" y1="1133" y2="1133" stroke="#333" stroke-width="1.2" stroke-dasharray="3 3"/>
<polygon points="666,1129 676,1133 666,1137" fill="#000"/>
<path d="M703 1120 C710 1114 726 1114 732 1120 C736 1128 733 1145 724 1151 C715 1155 703 1153 699 1146 C696 1137 698 1125 703 1120 Z" fill="#22e022"/>
<g fill="none" stroke="#1c2f8a" stroke-width="1.3">
 <path d="M349 1155 C360 1146 370 1146 379 1152 S397 1159 407 1153"/>
 <path d="M349 1167 C360 1158 370 1158 379 1164 S397 1171 407 1165"/>
 <path d="M934 1123 C944 1116 952 1116 961 1121 S979 1128 990 1122"/>
 <path d="M934 1134.5 C944 1127.5 952 1127.5 961 1132.5 S979 1139.5 990 1133.5"/>
 <path d="M934 1146 C944 1139 952 1139 961 1144 S979 1151 990 1145"/>
 <path d="M934 1157.5 C944 1150.5 952 1150.5 961 1155.5 S979 1162.5 990 1156.5"/>
 <path d="M934 1169 C944 1162 952 1162 961 1167 S979 1174 990 1168"/>
 <path d="M934 1180.5 C944 1173.5 952 1173.5 961 1178.5 S979 1185.5 990 1179.5"/>
</g>
<!-- legend -->
<rect x="231" y="1247" width="846" height="31" fill="#fff" stroke="#333" stroke-width="1.5"/>
<path d="M244 1263 C252 1259 258 1266 270 1259 M246 1265 C254 1262 260 1267 268 1262 M250 1261 L262 1266" stroke="#777" stroke-width="0.8" fill="none"/>
<path d="M450 1254 C460 1252 472 1254 474 1260 C476 1268 470 1274 460 1275 C450 1276 443 1270 443 1264 C443 1258 445 1255 450 1254 Z" fill="#f7a21b"/>
<text x="446" y="1270" font-size="16" font-weight="bold" fill="#000">Nu</text>
<path d="M595 1266 C608 1258 625 1258 636 1263" stroke="#3d2410" stroke-width="6" fill="none" stroke-linecap="round"/>
<path d="M766 1266 C775 1252 795 1252 803 1266" stroke="#9b9b9b" stroke-width="5" fill="none" stroke-linecap="round"/>
<path d="M930 1261 C938 1256 944 1256 948 1260 S958 1265 966 1259 M930 1267 C938 1262 944 1262 948 1266 S958 1271 966 1265" stroke="#1c2f8a" stroke-width="1" fill="none"/>
<g font-size="19" fill="#000">
 <text x="288" y="1270" textLength="128" lengthAdjust="spacingAndGlyphs">Nuclear lamina</text>
 <text x="482" y="1270" textLength="85" lengthAdjust="spacingAndGlyphs">Nucleolus</text>
 <text x="645" y="1270" textLength="83" lengthAdjust="spacingAndGlyphs">LAD/NAD</text>
 <text x="811" y="1270" textLength="89" lengthAdjust="spacingAndGlyphs">Chromatin</text>
 <text x="971" y="1270" textLength="94" lengthAdjust="spacingAndGlyphs">Transcripts</text>
</g>
</svg>
</body></html>
